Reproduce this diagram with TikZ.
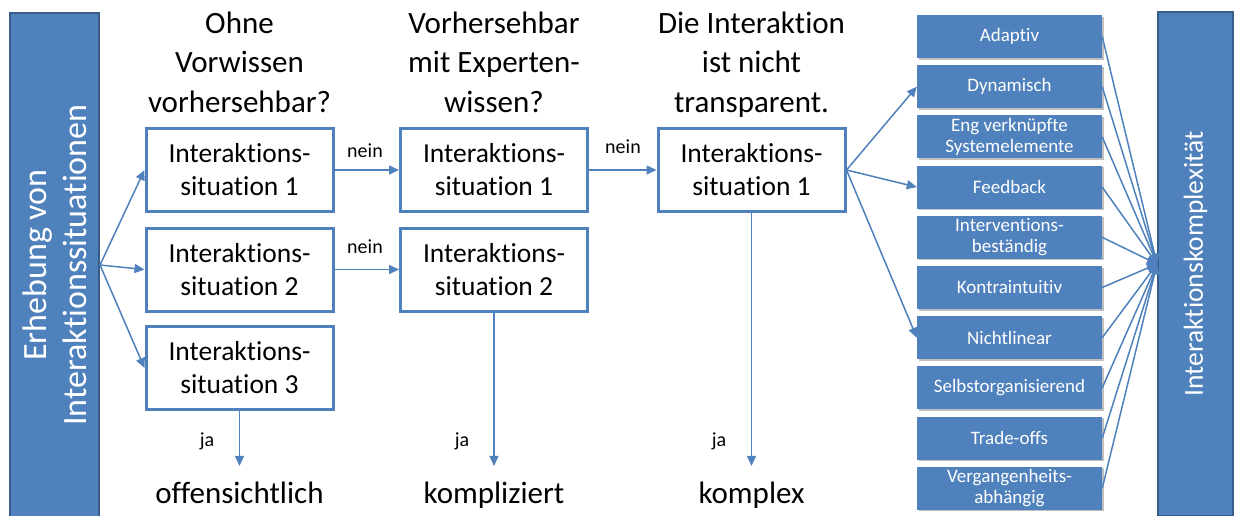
\documentclass[tikz,border=0pt]{standalone}
\usepackage{fontspec}
\setmainfont{Carlito}[RawFeature=-liga]
\usetikzlibrary{arrows.meta,shadows}
\definecolor{ob}{HTML}{4F81BD}
\definecolor{obd}{HTML}{385D8A}
\begin{document}
\begin{tikzpicture}[x=1pt,y=-1pt,
 sitbox/.style={draw=ob, line width=3pt, fill=white, minimum width=187pt, minimum height=83pt, inner sep=0pt, align=center, font=\fontsize{27.5}{33}\selectfont},
 head/.style={align=center, font=\fontsize{31}{39.5}\selectfont, inner sep=0pt, anchor=base},
 result/.style={font=\fontsize{31}{39}\selectfont, anchor=base},
 small/.style={font=\fontsize{20}{24}\selectfont, inner sep=0pt, anchor=base},
 attr/.style={fill=ob, text=white, minimum width=185pt, minimum height=43pt, inner sep=0pt, align=center, font=\fontsize{19}{21}\selectfont, drop shadow={shadow xshift=1.5pt, shadow yshift=-1.5pt, fill=black!25, opacity=1}},
 bar/.style={fill=ob, draw=obd, line width=2pt, rotate=90, text=white, align=center, inner sep=0pt},
 arr/.style={draw=ob, line width=1.5pt, -{Triangle[length=10pt,width=9pt]}},
]
\useasboundingbox (0,0) rectangle (1236,515);
\fill[white] (0,0) rectangle (1236,515);

% bars
\node[bar, minimum width=504pt, minimum height=89pt, font=\fontsize{34}{40}\selectfont] (lbar) at (54.5,265) {Erhebung von\\Interaktionssituationen};

% headings
\node[head] (h1) at (239.5,112) {Ohne\\Vorwissen\\vorhersehbar?};
\node[head] (h2) at (494,112) {Vorhersehbar\\mit Experten-\\wissen?};
\node[head] (h3) at (751.5,112) {Die Interaktion\\ist nicht\\transparent.};

% situation boxes
\node[sitbox] (a1) at (239.5,170) {Interaktions-\\situation 1};
\node[sitbox] (a2) at (239.5,269.5) {Interaktions-\\situation 2};
\node[sitbox] (a3) at (239.5,368) {Interaktions-\\situation 3};
\node[sitbox] (b1) at (494,170) {Interaktions-\\situation 1};
\node[sitbox] (b2) at (494,269.5) {Interaktions-\\situation 2};
\node[sitbox] (c1) at (751.5,170) {Interaktions-\\situation 1};

% results
\node[result] (o1) at (239.5,503) {offensichtlich};
\node[result] (o2) at (494,503) {kompliziert};
\node[result] (o3) at (751.5,503) {komplex};

% labels
\node[small] (n1) at (365,157) {nein};
\node[small] (n2) at (365,253) {nein};
\node[small] (n3) at (623,153) {nein};
\node[small] (j1) at (207,446) {ja};
\node[small] (j2) at (462,446) {ja};
\node[small] (j3) at (719,446) {ja};

% attribute boxes
\node[attr] (r1) at (1009.5,36.5) {Adaptiv};
\node[attr] (r2) at (1009.5,86.7) {Dynamisch};
\node[attr] (r3) at (1009.5,136.9) {Eng verknüpfte\\Systemelemente};
\node[attr] (r4) at (1009.5,187.1) {Feedback};
\node[attr] (r5) at (1009.5,237.3) {Interventions-\\beständig};
\node[attr] (r6) at (1009.5,287.5) {Kontraintuitiv};
\node[attr] (r7) at (1009.5,337.7) {Nichtlinear};
\node[attr] (r8) at (1009.5,387.9) {Selbstorganisierend};
\node[attr] (r9) at (1009.5,438.1) {Trade-offs};
\node[attr] (r10) at (1009.5,488.3) {Vergangenheits-\\abhängig};

% connectors
\draw[arr] (lbar.south) -- (a1.west);
\draw[arr] (lbar.south) -- (a2.west);
\draw[arr] (lbar.south) -- (a3.west);
\draw[arr] (a1.east) -- (b1.west);
\draw[arr] (a2.east) -- (b2.west);
\draw[arr] (b1.east) -- (c1.west);
\draw[arr, shorten >=12pt] (a3.south) -- (a3.south |- o1.north);
\draw[arr, shorten >=12pt] (b2.south) -- (b2.south |- o2.north);
\draw[arr, shorten >=12pt] (c1.south) -- (c1.south |- o3.north);
\draw[arr] (c1.east) -- (r2.west);
\draw[arr] (c1.east) -- (r4.west);
\draw[arr] (c1.east) -- (r7.west);

\node[bar, minimum width=504pt, minimum height=75pt, font=\fontsize{27.5}{33}\selectfont] (rbar) at (1195.5,264) {Interaktionskomplexität};
\foreach \i in {1,...,10} {
  \draw[arr] (r\i.east) -- (rbar.north);
}
\end{tikzpicture}
\end{document}
